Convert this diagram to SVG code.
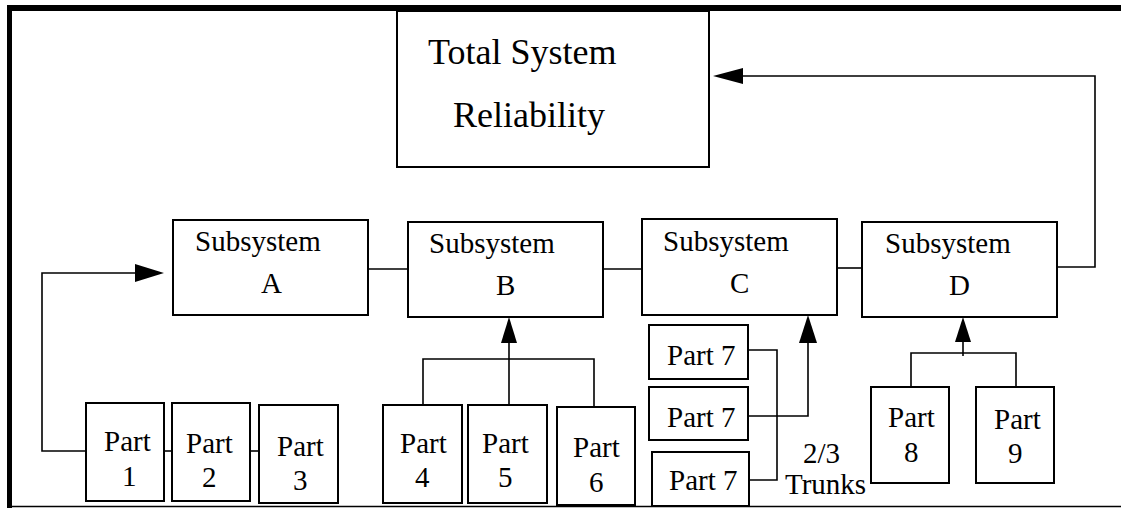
<svg xmlns="http://www.w3.org/2000/svg" width="1121" height="508" viewBox="0 0 1121 508">
<defs>
<style>
.box{fill:#fff;stroke:#000;stroke-width:2}
.ln{fill:none;stroke:#000;stroke-width:1.6}
text{font-family:"Liberation Serif","Times New Roman",serif;fill:#000;font-size:29px}
.big{font-size:36px}
</style>
</defs>
<rect width="1121" height="508" fill="#fff"/>
<g id="frame">
<rect x="7" y="5" width="1114" height="6" fill="#000"/>
<rect x="7" y="5" width="5" height="503" fill="#000"/>
<line x1="12" y1="506.5" x2="1121" y2="506.5" stroke="#000" stroke-width="1.5"/>
</g>
<g id="connectors">
<polyline class="ln" points="1057,267 1095,267 1095,76 740,76"/>
<polygon points="713,76 743,68 743,84" fill="#000"/>
<polyline class="ln" points="86,451 42,451 42,273 138,273"/>
<polygon points="164,273 135,264 135,282" fill="#000"/>
<line class="ln" x1="164" y1="451" x2="172" y2="451"/>
<line class="ln" x1="250" y1="451" x2="259" y2="451"/>
<line class="ln" x1="368" y1="269" x2="408" y2="269"/>
<line class="ln" x1="603" y1="269" x2="642" y2="269"/>
<line class="ln" x1="837" y1="268" x2="862" y2="268"/>
<polyline class="ln" points="423,405 423,359 594,359 594,407"/>
<line class="ln" x1="509" y1="405" x2="509" y2="340"/>
<polygon points="509,317 501,343 517,343" fill="#000"/>
<polyline class="ln" points="748,350 777,350 777,480 749,480"/>
<polyline class="ln" points="748,416 808,416 808,340"/>
<polygon points="808,315 799,343 817,343" fill="#000"/>
<polyline class="ln" points="911,387 911,353 1016,353 1016,387"/>
<line class="ln" x1="963" y1="356" x2="963" y2="340"/>
<polygon points="963,317 955,342 971,342" fill="#000"/>
</g>
<g id="total">
<rect class="box" x="397" y="11" width="312" height="156"/>
<text class="big" x="428" y="64">Total System</text>
<text class="big" x="453" y="127">Reliability</text>
</g>
<g id="subA">
<rect class="box" x="173" y="220" width="195" height="95"/>
<text x="195" y="251">Subsystem</text>
<text x="261" y="293">A</text>
</g>
<g id="subB">
<rect class="box" x="408" y="222" width="195" height="95"/>
<text x="429" y="253">Subsystem</text>
<text x="496" y="295">B</text>
</g>
<g id="subC">
<rect class="box" x="642" y="219" width="195" height="96"/>
<text x="663" y="251">Subsystem</text>
<text x="730" y="293">C</text>
</g>
<g id="subD">
<rect class="box" x="862" y="222" width="195" height="95"/>
<text x="885" y="253">Subsystem</text>
<text x="949" y="295">D</text>
</g>
<g id="part1">
<rect class="box" x="86" y="403" width="78" height="98"/>
<text x="104" y="451">Part</text>
<text x="122" y="486">1</text>
</g>
<g id="part2">
<rect class="box" x="172" y="403" width="78" height="98"/>
<text x="186" y="453">Part</text>
<text x="202" y="487">2</text>
</g>
<g id="part3">
<rect class="box" x="259" y="405" width="79" height="98"/>
<text x="277" y="456">Part</text>
<text x="293" y="490">3</text>
</g>
<g id="part4">
<rect class="box" x="383" y="405" width="79" height="98"/>
<text x="400" y="453">Part</text>
<text x="415" y="487">4</text>
</g>
<g id="part5">
<rect class="box" x="468" y="405" width="79" height="98"/>
<text x="482" y="453">Part</text>
<text x="498" y="487">5</text>
</g>
<g id="part6">
<rect class="box" x="557" y="407" width="78" height="98"/>
<text x="573" y="457">Part</text>
<text x="589" y="492">6</text>
</g>
<g id="part7a">
<rect class="box" x="649" y="325" width="99" height="54"/>
<text x="667" y="365">Part 7</text>
</g>
<g id="part7b">
<rect class="box" x="649" y="387" width="99" height="53"/>
<text x="667" y="427">Part 7</text>
</g>
<g id="part7c">
<rect class="box" x="652" y="452" width="97" height="54"/>
<text x="669" y="490">Part 7</text>
</g>
<g id="trunks">
<text x="803" y="463">2/3</text>
<text x="785" y="494">Trunks</text>
</g>
<g id="part8">
<rect class="box" x="871" y="387" width="78" height="96"/>
<text x="888" y="427">Part</text>
<text x="904" y="462">8</text>
</g>
<g id="part9">
<rect class="box" x="976" y="387" width="78" height="96"/>
<text x="994" y="429">Part</text>
<text x="1008" y="463">9</text>
</g>
</svg>
